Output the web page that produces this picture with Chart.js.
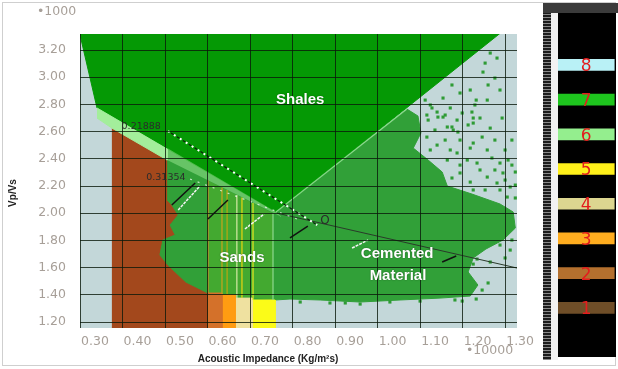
<!DOCTYPE html>
<html>
<head>
<meta charset="utf-8">
<script src="https://cdn.jsdelivr.net/npm/chart.js@4"></script>
<style>
  html, body { margin: 0; padding: 0; background: #fff; }
  #wrap { position: relative; width: 618px; height: 369px; overflow: hidden; }
  #frame { position: absolute; left: 2px; top: 2px; width: 612px; height: 362px; border: 1px solid #cfcfcf; }
  #plot { position: absolute; left: 0; top: 0; }
  #key { position: absolute; left: 540px; top: 0; }
</style>
</head>
<body>
<div id="wrap">
  <div id="frame"></div>
  <canvas id="plot" width="618" height="369"></canvas>
  <canvas id="key" width="78" height="369"></canvas>
</div>
<script>
// ---------- Axis ticks (acoustic impedance x10000, Vp/Vs x1000) ----------
const xTickValues = [0.30, 0.40, 0.50, 0.60, 0.70, 0.80, 0.90, 1.00, 1.10, 1.20, 1.30];
const yTickValues = [1.20, 1.40, 1.60, 1.80, 2.00, 2.20, 2.40, 2.60, 2.80, 3.00, 3.20];
const xRange = [0.30, 1.328];
const yRange = [1.156, 3.318];

// ---------- Zone outlines (x = impedance, y = Vp/Vs) ----------
const shaleX = [0.298, 1.295, 0.761, 0.340, 0.298];
const shaleY = [3.340, 3.340, 2.009, 2.774, 3.340];

const brownX = [0.375, 0.505, 0.559, 0.601, 0.601, 0.375];
const brownY = [2.626, 2.391, 2.303, 2.244, 1.100, 1.100];

const cementX = [0.505, 0.761, 1.069, 1.095, 1.102, 1.084, 1.119, 1.152, 1.164, 1.222, 1.288, 1.319, 1.324, 1.295,
                 1.255, 1.225, 1.213, 1.236, 1.218, 1.147, 1.053, 0.959, 0.865, 0.794, 0.759, 0.705, 0.665, 0.634,
                 0.601, 0.582, 0.549, 0.524, 0.507, 0.488, 0.495, 0.524, 0.512, 0.531, 0.516, 0.505];
const cementY = [2.479, 2.009, 2.766, 2.715, 2.590, 2.479, 2.391, 2.303, 2.200, 2.141, 2.068, 2.009, 1.891, 1.803,
                 1.737, 1.671, 1.568, 1.472, 1.391, 1.376, 1.362, 1.347, 1.362, 1.369, 1.362, 1.362, 1.376, 1.399,
                 1.413, 1.443, 1.494, 1.568, 1.619, 1.693, 1.803, 1.840, 1.913, 1.987, 2.060, 2.097];

const bandAX = [0.340, 0.505, 0.505, 0.375, 0.340];
const bandAY = [2.774, 2.472, 2.391, 2.626, 2.700];
const bandBX = [0.505, 0.761, 0.775, 0.505];
const bandBY = [2.479, 2.009, 1.972, 2.391];

const sandX = [0.601, 0.754, 0.754, 0.601];
const sandY = [2.240, 1.999, 1.362, 1.413];

// facies columns at the base of the sands
const faciesLeft  = [0.601, 0.634, 0.665, 0.705];
const faciesRight = [0.634, 0.665, 0.705, 0.759];
const faciesTop   = [1.413, 1.399, 1.376, 1.362];

// vertical cut-offs inside the sands
const sandLineX      = [0.601, 0.634, 0.646, 0.669, 0.681, 0.707, 0.754];
const sandLineTop    = [2.240, 2.189, 2.171, 2.134, 2.115, 2.075, 2.001];
const sandLineBottom = [1.413, 1.399, 1.399, 1.376, 1.376, 1.362, 1.362];

// trend lines
const edgeLineX = [0.761, 1.069];   const edgeLineY = [2.009, 2.766];
const trendX    = [0.763, 1.328];   const trendY    = [2.001, 1.597];
const dotLineX  = [0.507, 0.858];   const dotLineY  = [2.604, 1.913];
const dot2X     = [0.559, 0.811];   const dot2Y     = [2.251, 1.957];

const blackSegX = [[0.516, 0.571], [0.601, 0.648], [0.794, 0.836], [1.152, 1.185]];
const blackSegY = [[2.060, 2.222], [1.957, 2.097], [1.818, 1.906], [1.641, 1.685]];
const whiteSegX = [[0.531, 0.582], [0.688, 0.733], [0.940, 0.978]];
const whiteSegY = [[2.024, 2.200], [1.884, 1.994], [1.744, 1.803]];

// sparse samples at the fringe of the cemented cloud
const fringeX = [1.265, 1.281, 1.253, 1.248, 1.154, 1.258, 1.229, 1.222, 1.225, 1.142, 1.159, 1.119, 1.187, 1.175,
                 1.135, 1.189, 1.116, 1.154, 1.225, 1.164, 1.178, 1.116, 1.140, 1.225, 1.258, 1.187, 1.164, 1.211,
                 1.234, 1.288, 1.194, 1.258, 1.295, 1.281, 1.312, 1.225, 1.305, 1.234, 1.225, 0.818, 0.888, 0.959,
                 1.029, 1.100, 1.182, 0.924, 1.288, 1.312, 1.265, 1.300, 1.316, 1.246, 1.260, 1.232, 1.199, 1.112,
                 1.128, 1.316, 1.300,
                 1.124, 1.140, 1.171, 1.199, 1.213, 1.241, 1.265, 1.276, 1.246, 1.218, 1.194, 1.171, 1.269, 1.300,
                 1.324, 1.307, 1.276, 1.241, 1.218, 1.253, 1.288, 1.324, 1.194, 1.175, 1.324, 1.159, 1.124, 1.293,
                 1.316, 1.232, 1.194, 1.175, 1.288, 1.276, 1.218, 1.260];
const fringeY = [3.178, 3.141, 3.104, 3.038, 2.847, 2.832, 2.796, 2.744, 2.700, 2.707, 2.722, 2.685, 2.685, 2.634,
                 2.612, 2.597, 2.722, 2.707, 2.663, 2.634, 2.612, 2.560, 2.501, 2.516, 2.465, 2.443, 2.391, 2.391,
                 2.369, 2.369, 2.296, 2.266, 2.296, 2.222, 2.193, 2.171, 2.119, 1.663, 1.626, 1.347, 1.340, 1.332,
                 1.347, 1.354, 1.362, 1.340, 1.766, 1.729, 1.641, 1.671, 1.803, 1.435, 1.487, 1.369, 1.354, 2.832,
                 2.774, 2.354, 2.244,
                 2.796, 2.744, 2.774, 2.737, 2.649, 2.700, 2.626, 2.538, 2.560, 2.479, 2.538, 2.465, 2.406, 2.465,
                 2.303, 2.391, 2.318, 2.318, 2.229, 2.171, 2.171, 2.112, 2.354, 2.259, 2.207, 2.538, 2.465, 2.700,
                 2.538, 2.832, 2.884, 2.943, 2.906, 2.994, 2.906, 2.943];

// annotations
const zoneLabels = ['Shales', 'Sands', 'Cemented', 'Material'];
const zoneLabelX = [0.818, 0.681, 1.046, 1.048];
const zoneLabelY = [2.832, 1.671, 1.700, 1.538];
const lineLabels = ['0.21888', '0.31354', 'O'];
const lineLabelX = [0.444, 0.502, 0.876];
const lineLabelY = [2.641, 2.266, 1.943];

// colour key levels
const keyLevels = [1, 2, 3, 4, 5, 6, 7, 8];

// ---------- Styling ----------
const plotBg = '#c3d7d9';
const faciesColors = ['#d4712a', '#ff9c12', '#efe1a0', '#fbfb18'];
const sandLineColors = ['#d98a2b', '#c9a41c', '#b9a610', '#d5e9a5', '#e9d510', '#e8e820', '#8fd88f'];
const keyColors = ['#6f4e28', '#b4702e', '#ffad1f', '#dcd690', '#fff01a', '#94ee8e', '#1ec51e', '#b9f1f6'];
const tickFont = { family: '"DejaVu Sans", Verdana, sans-serif', size: 12.5 };

const pts = (xs, ys) => xs.map((x, i) => ({ x, y: ys[i] }));

function polygon(xs, ys, color, order, stroke) {
  return {
    data: pts(xs, ys), showLine: true, fill: 'shape',
    backgroundColor: color, borderColor: stroke || color, borderWidth: stroke === undefined ? 1 : 0.01,
    pointRadius: 0, order
  };
}
function line(xs, ys, color, width, order, dash, dashOffset) {
  return {
    data: pts(xs, ys), showLine: true, fill: false,
    borderColor: color, borderWidth: width, borderDash: dash || [], borderDashOffset: dashOffset || 0,
    pointRadius: 0, order
  };
}

const datasets = [];
datasets.push(polygon(brownX, brownY, '#a3481c', 30));
datasets.push(polygon(cementX, cementY, '#31a038', 29));
datasets.push(polygon(sandX, sandY, 'rgba(140,205,20,0.20)', 28, 'rgba(0,0,0,0)'));
faciesLeft.forEach((l, i) => {
  const r = faciesRight[i], t = faciesTop[i];
  datasets.push(polygon([l, r, r, l], [t, t, 1.10, 1.10], faciesColors[i], 27));
});
datasets.push({
  data: pts(fringeX, fringeY), showLine: false, pointStyle: 'rect', pointRadius: 2.2,
  backgroundColor: '#2e9b34', borderWidth: 0, order: 26
});
datasets.push(polygon(shaleX, shaleY, '#059905', 25));
datasets.push(polygon(bandBX, bandBY, 'rgba(170,240,160,0.45)', 24, 'rgba(0,0,0,0)'));
datasets.push(polygon(bandAX, bandAY, '#a3ee9b', 23));
datasets.push(line(edgeLineX, edgeLineY, 'rgba(160,230,160,0.8)', 1.2, 22));
sandLineX.forEach((x, i) => {
  datasets.push(line([x, x], [sandLineTop[i], sandLineBottom[i]], sandLineColors[i], 1.2, 21));
});
datasets.push(line(trendX, trendY, '#2a3a2a', 1, 20));
datasets.push(line(dotLineX, dotLineY, '#102010', 1.2, 19, [3, 4], 3.5));
datasets.push(line(dotLineX, dotLineY, '#ffffff', 2, 18, [2, 5]));
datasets.push(line(dot2X, dot2Y, 'rgba(255,255,255,0.7)', 1.2, 17, [2, 6]));
blackSegX.forEach((xs, i) => datasets.push(line(xs, blackSegY[i], '#111', 1.5, 16)));
whiteSegX.forEach((xs, i) => datasets.push(line(xs, whiteSegY[i], '#f4f4f4', 1.5, 15, [3, 1])));

const plotBackground = {
  id: 'plotBackground',
  beforeDraw(chart) {
    const { ctx, chartArea: a } = chart;
    ctx.save();
    ctx.fillStyle = plotBg;
    ctx.fillRect(a.left, a.top, a.right - a.left, a.bottom - a.top);
    ctx.restore();
  }
};

const annotations = {
  id: 'annotations',
  afterDraw(chart) {
    const { ctx } = chart;
    const sx = chart.scales.x, sy = chart.scales.y;
    ctx.save();
    ctx.textAlign = 'center';
    ctx.textBaseline = 'middle';
    // zone names
    ctx.font = 'bold 15px "Liberation Sans", Arial, sans-serif';
    ctx.fillStyle = '#ffffff';
    ctx.shadowColor = 'rgba(0,0,0,0.45)';
    ctx.shadowBlur = 1.5;
    zoneLabels.forEach((t, i) => {
      ctx.fillText(t, sx.getPixelForValue(zoneLabelX[i]), sy.getPixelForValue(zoneLabelY[i]));
    });
    ctx.shadowColor = 'transparent';
    ctx.shadowBlur = 0;
    // line values
    lineLabels.forEach((t, i) => {
      ctx.font = (t === 'O' ? '12px' : '9.5px') + ' "DejaVu Sans", sans-serif';
      ctx.fillStyle = '#2b2b2b';
      ctx.fillText(t, sx.getPixelForValue(lineLabelX[i]), sy.getPixelForValue(lineLabelY[i]));
    });
    // axis titles and multipliers
    ctx.fillStyle = '#222';
    ctx.font = 'bold 10px "Liberation Sans", Arial, sans-serif';
    ctx.fillText('Acoustic Impedance (Kg/m\u00B2s)', 268, 359);
    ctx.save();
    ctx.translate(13, 193);
    ctx.rotate(-Math.PI / 2);
    ctx.fillText('Vp/Vs', 0, 0);
    ctx.restore();
    ctx.fillStyle = '#a79f98';
    ctx.font = '12.5px "DejaVu Sans", sans-serif';
    ctx.textAlign = 'left';
    ctx.fillText('\u20221000', 37, 12);
    ctx.fillText('\u202210000', 466, 351);
    ctx.restore();
  }
};

new Chart(document.getElementById('plot'), {
  type: 'scatter',
  data: { datasets },
  options: {
    responsive: false,
    animation: false,
    devicePixelRatio: 1,
    layout: { padding: { left: 0, top: 34, right: 101, bottom: 11 } },
    elements: { line: { tension: 0 } },
    plugins: { legend: { display: false }, tooltip: { enabled: false } },
    scales: {
      x: {
        type: 'linear', min: xRange[0], max: xRange[1], bounds: 'data',
        afterBuildTicks: s => { s.ticks = xTickValues.map(v => ({ value: v })); },
        afterFit: s => { s.height = 30; },
        ticks: {
          callback: v => Number(v).toFixed(2), labelOffset: 15, padding: 6,
          color: '#a79f98', font: tickFont, autoSkip: false, maxRotation: 0
        },
        grid: { color: 'rgba(10,25,10,0.8)', lineWidth: 1, z: 1, drawTicks: false },
        border: { display: false }
      },
      y: {
        type: 'linear', min: yRange[0], max: yRange[1], bounds: 'data',
        afterBuildTicks: s => { s.ticks = yTickValues.map(v => ({ value: v })); },
        afterFit: s => { s.width = 80; },
        ticks: {
          callback: v => Number(v).toFixed(2), padding: 14,
          color: '#a79f98', font: tickFont, autoSkip: false
        },
        grid: { color: 'rgba(10,25,10,0.8)', lineWidth: 1, z: 1, drawTicks: false },
        border: { display: false }
      }
    }
  },
  plugins: [plotBackground, annotations]
});

// ---------- Colour key ----------
const keyFrame = {
  id: 'keyFrame',
  beforeDraw(chart) {
    const { ctx, chartArea: a } = chart;
    ctx.save();
    ctx.fillStyle = '#3b3b3b';
    ctx.fillRect(3, 3, 75, a.top - 3);
    ctx.fillStyle = '#000';
    ctx.fillRect(a.left, a.top, a.right - a.left, a.bottom - a.top);
    ctx.fillStyle = '#1c1c1c';
    ctx.fillRect(3, a.top, 8, a.bottom - a.top + 3);
    ctx.fillStyle = '#8a8a8a';
    for (let y = a.top + 1; y < a.bottom + 3; y += 3) ctx.fillRect(3, y, 8, 1);
    ctx.fillStyle = '#f2f2f2';
    ctx.fillRect(11, a.top, a.left - 11, a.bottom - a.top + 3);
    ctx.restore();
  },
  afterDatasetsDraw(chart) {
    const { ctx } = chart;
    const meta = chart.getDatasetMeta(0);
    ctx.save();
    ctx.font = '17px "DejaVu Sans", sans-serif';
    ctx.fillStyle = '#e31d1d';
    ctx.textAlign = 'center';
    ctx.textBaseline = 'middle';
    meta.data.forEach((el, i) => {
      ctx.fillText(String(keyLevels[i]), (el.x + el.base) / 2, el.y + 2);
    });
    ctx.restore();
  }
};

new Chart(document.getElementById('key'), {
  type: 'bar',
  data: {
    datasets: [{
      data: keyLevels.map(k => ({ x: [0, 0.97], y: k })),
      backgroundColor: keyColors, borderWidth: 0, barThickness: 11
    }]
  },
  options: {
    indexAxis: 'y',
    responsive: false,
    animation: false,
    devicePixelRatio: 1,
    layout: { padding: { left: 18, right: 2, top: 13, bottom: 12 } },
    plugins: { legend: { display: false }, tooltip: { enabled: false } },
    scales: {
      x: { type: 'linear', display: false, min: 0, max: 1 },
      y: { type: 'linear', display: false, min: 0.08, max: 9.0 }
    }
  },
  plugins: [keyFrame]
});
</script>
</body>
</html>
